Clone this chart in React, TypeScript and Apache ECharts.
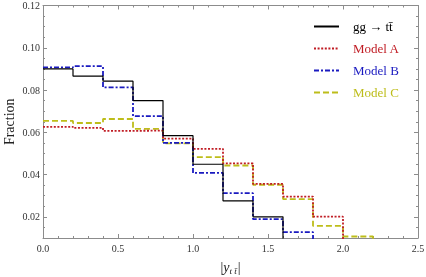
import React, { useEffect, useRef } from "react";
import * as echarts from "echarts";

const binEdges = [0, 0.2, 0.4, 0.6, 0.8, 1.0, 1.2, 1.4, 1.6, 1.8, 2.0, 2.2];
const smValues = [0.0900, 0.0866, 0.0842, 0.0750, 0.0584, 0.0449, 0.0276, 0.0200];
const modelAValues = [0.0626, 0.0621, 0.0607, 0.0608, 0.0570, 0.0522, 0.0453, 0.0356, 0.0296, 0.0201];
const modelBValues = [0.0907, 0.0913, 0.0813, 0.0677, 0.0550, 0.0408, 0.0312, 0.0189, 0.0128];
const modelCValues = [0.0654, 0.0644, 0.0663, 0.0616, 0.0548, 0.0483, 0.0443, 0.0352, 0.0284, 0.0157, 0.0107];
const seriesNames = ["gg \u2192 tt\u0304", "Model A", "Model B", "Model C"];
const seriesColors = ["#000000", "#c01c24", "#1a1ac0", "#bdbd1a"];

function stepPoints(values: number[]) {
  const pts: number[][] = values.map((v, i) => [binEdges[i], v]);
  const end = binEdges[values.length];
  pts.push([end, values[values.length - 1]]);
  pts.push([end, 0]);
  return pts;
}

const serif = "'Liberation Serif', 'DejaVu Serif', serif";
const frameColor = "#8c8c8c";
const labelColor = "#333333";

export default function App() {
  const ref = useRef<HTMLDivElement>(null);
  useEffect(() => {
    if (!ref.current) return;
    const chart = echarts.init(ref.current, undefined, { renderer: "svg" });
    const styles = [
      { width: 1.2, type: "solid" as any },
      { width: 1.8, type: [2, 1.6] as any },
      { width: 1.8, type: [5, 2, 2, 2] as any },
      { width: 1.8, type: [6, 3] as any },
    ];
    const valuesList = [smValues, modelAValues, modelBValues, modelCValues];
    const yRange = { min: 0.01, max: 0.12 };
    const xCommon = {
      type: "value" as const,
      min: 0,
      max: 2.5,
      interval: 0.5,
      splitLine: { show: false },
      axisLine: { show: true, lineStyle: { color: frameColor, width: 1 } },
      axisTick: { show: true, inside: true, length: 4, lineStyle: { color: frameColor } },
      minorTick: { show: true, splitNumber: 5, length: 2, lineStyle: { color: frameColor } },
    };
    const yMajor = {
      type: "value" as const,
      ...yRange,
      splitNumber: 5,
      splitLine: { show: false },
      axisLine: { show: true, lineStyle: { color: frameColor, width: 1 } },
      axisTick: { show: true, inside: true, length: 4, lineStyle: { color: frameColor } },
    };
    const yMinor = {
      type: "value" as const,
      ...yRange,
      interval: 0.005,
      splitLine: { show: false },
      axisLine: { show: false },
      axisLabel: { show: false },
      axisTick: { show: true, inside: true, length: 2, lineStyle: { color: frameColor } },
    };
    chart.setOption({
      animation: false,
      grid: {
        left: 43,
        right: 8,
        top: 5.5,
        bottom: 39,
        containLabel: false,
        outerBoundsMode: "none",
      } as any,
      legend: {
        orient: "vertical",
        left: 313,
        top: 20,
        padding: 0,
        itemWidth: 25,
        itemHeight: 12,
        itemGap: 9,
        itemStyle: { opacity: 0 },
        data: seriesNames.map((n, i) => ({
          name: n,
          textStyle: { color: seriesColors[i], fontFamily: serif, fontSize: 13 },
        })),
        textStyle: { fontFamily: serif, fontSize: 13, padding: [0, 0, 0, 9] },
      },
      xAxis: [
        {
          ...xCommon,
          position: "bottom",
          name: "{b||}{y|y}{s|t t\u0304}{b||}",
          nameLocation: "middle",
          nameGap: 21,
          nameMoveOverlap: false,
          nameTextStyle: {
            rich: {
              b: { fontFamily: serif, fontSize: 14, color: "#222" },
              y: { fontFamily: serif, fontSize: 14, fontStyle: "italic", color: "#222" },
              s: { fontFamily: serif, fontSize: 9, fontStyle: "italic", color: "#222", padding: [7, 1, 0, 0] },
            },
          },
          axisLabel: {
            show: true,
            margin: 5,
            color: labelColor,
            fontFamily: serif,
            fontSize: 10,
            formatter: (v: number) => v.toFixed(1),
          },
        } as any,
        {
          ...xCommon,
          position: "top",
          axisLabel: { show: false },
        },
      ],
      yAxis: [
        {
          ...yMajor,
          position: "left",
          name: "Fraction",
          nameLocation: "middle",
          nameGap: 27,
          nameMoveOverlap: false,
          nameTextStyle: { fontFamily: serif, fontSize: 14, color: "#222" },
          axisLabel: {
            show: true,
            margin: 3,
            color: labelColor,
            fontFamily: serif,
            fontSize: 10,
            showMinLabel: false,
            formatter: (v: number) => v.toFixed(2),
          },
        } as any,
        { ...yMinor, position: "left" },
        { ...yMajor, position: "right", axisLabel: { show: false } },
        { ...yMinor, position: "right" },
      ],
      series: valuesList.map((vals, i) => ({
        name: seriesNames[i],
        type: "line",
        step: "end",
        xAxisIndex: 0,
        yAxisIndex: 0,
        showSymbol: false,
        symbol: "none",
        clip: true,
        color: seriesColors[i],
        lineStyle: { color: seriesColors[i], ...styles[i] },
        data: stepPoints(vals),
        z: 4 - i,
      })),
    });
    return () => chart.dispose();
  }, []);
  return (
    <div
      ref={ref}
      style={{ width: 426, height: 277, position: "fixed", left: 0, top: 0 }}
    />
  );
}
